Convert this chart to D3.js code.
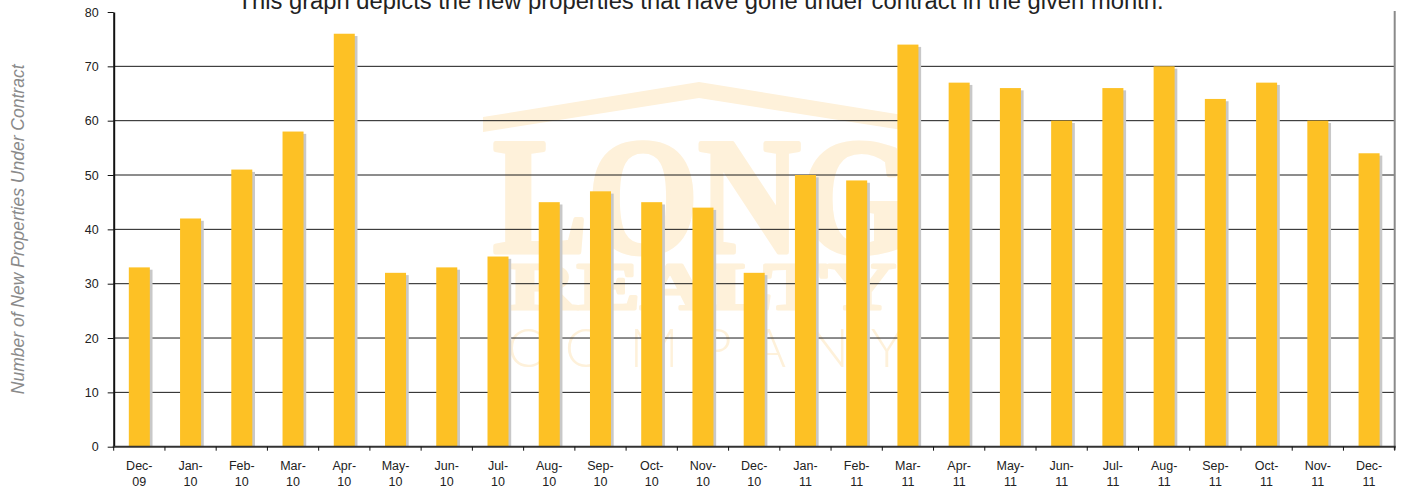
<!DOCTYPE html>
<html>
<head>
<meta charset="utf-8">
<script src="https://cdn.jsdelivr.net/npm/d3@7"></script>
<style>
  body { margin: 0; background: #fff; }
</style>
</head>
<body>
<div id="vis"></div>
<script>
// month labels are split over two lines, like the original
const months = ["Dec-", "Jan-", "Feb-", "Mar-", "Apr-", "May-", "Jun-", "Jul-", "Aug-", "Sep-", "Oct-", "Nov-", "Dec-",
                "Jan-", "Feb-", "Mar-", "Apr-", "May-", "Jun-", "Jul-", "Aug-", "Sep-", "Oct-", "Nov-", "Dec-"];
const years = ["09", "10", "10", "10", "10", "10", "10", "10", "10", "10", "10", "10", "10",
               "11", "11", "11", "11", "11", "11", "11", "11", "11", "11", "11", "11"];
const values = [33, 42, 51, 58, 76, 32, 33, 35, 45, 47, 45, 44, 32,
                50, 49, 74, 67, 66, 60, 66, 70, 64, 67, 60, 54];
const yTicks = [0, 10, 20, 30, 40, 50, 60, 70, 80];
const gridTicks = [10, 20, 30, 40, 50, 60, 70];

const CONFIG = {
    colors: {
        bar: "#FDC125",
        shadow: "#C8C8C8",
        grid: "#1a1a1a",
        axis: "#111",
        border: "#8a8a8a",
        mark: "#FEF1DA",
        label: "#8a8a8a"
    },
    dims: {
        w: 1401,
        h: 489,
        margin: { top: 12, right: 6.3, bottom: 42.3, left: 113.7 }
    }
};

const W = CONFIG.dims.w, H = CONFIG.dims.h, M = CONFIG.dims.margin;
const plotL = M.left, plotR = W - M.right, plotT = M.top, plotB = H - M.bottom;

const data = values.map((v, i) => ({ key: i, month: months[i], year: years[i], value: v }));

const svg = d3.select("#vis")
    .append("svg")
    .attr("width", W)
    .attr("height", H);

const x = d3.scaleBand()
    .domain(data.map(d => d.key))
    .range([plotL, plotR])
    .padding(0);

const xBar = d3.scaleBand()
    .domain(data.map(d => d.key))
    .range([plotL, plotR])
    .paddingInner(0.59)
    .paddingOuter(0.295);

const y = d3.scaleLinear()
    .domain([0, 80])
    .range([plotB, plotT]);

// watermark logo behind the bars
const logo = svg.append("g")
    .attr("fill", CONFIG.colors.mark)
    .attr("stroke", CONFIG.colors.mark)
    .attr("stroke-linejoin", "round");
logo.append("polygon")
    .attr("stroke-width", 0)
    .attr("points", "483,117 699,82 915,117 915,132 699,98 483,132");
logo.append("text")
    .attr("x", 493).attr("y", 252)
    .attr("font-family", "Liberation Serif")
    .attr("font-weight", "bold")
    .attr("font-size", 166)
    .attr("stroke-width", 5)
    .attr("textLength", 418)
    .attr("lengthAdjust", "spacingAndGlyphs")
    .text("LONG");
logo.append("text")
    .attr("x", 508).attr("y", 309)
    .attr("font-family", "Liberation Serif")
    .attr("font-weight", "bold")
    .attr("font-size", 68)
    .attr("stroke-width", 3)
    .attr("textLength", 388)
    .attr("lengthAdjust", "spacingAndGlyphs")
    .text("REALTY");
logo.append("text")
    .attr("x", 507).attr("y", 367)
    .attr("font-family", "Lato")
    .attr("font-weight", 300)
    .attr("font-size", 54)
    .attr("stroke-width", 0)
    .attr("textLength", 396)
    .attr("lengthAdjust", "spacing")
    .text("COMPANY");

// grid
svg.append("g")
    .selectAll("line")
    .data(gridTicks)
    .join("line")
    .attr("x1", plotL).attr("x2", plotR)
    .attr("y1", d => y(d)).attr("y2", d => y(d))
    .attr("stroke", CONFIG.colors.grid)
    .attr("stroke-width", 1);

// bar shadows then bars
svg.append("g")
    .selectAll("rect")
    .data(data)
    .join("rect")
    .attr("x", d => xBar(d.key) + 2.7)
    .attr("y", d => y(d.value) + 2.3)
    .attr("width", xBar.bandwidth())
    .attr("height", d => plotB - y(d.value) - 2.3)
    .attr("fill", CONFIG.colors.shadow);

svg.append("g")
    .selectAll("rect")
    .data(data)
    .join("rect")
    .attr("x", d => xBar(d.key))
    .attr("y", d => y(d.value))
    .attr("width", xBar.bandwidth())
    .attr("height", d => plotB - y(d.value))
    .attr("fill", CONFIG.colors.bar);

// right border
svg.append("line")
    .attr("x1", plotR).attr("x2", plotR)
    .attr("y1", plotT - 1).attr("y2", plotB + 3)
    .attr("stroke", CONFIG.colors.border)
    .attr("stroke-width", 2);

// y axis
const yAxis = svg.append("g")
    .attr("transform", `translate(${plotL},0)`)
    .call(d3.axisLeft(y).tickValues(yTicks).tickSize(6).tickPadding(9).tickSizeOuter(0));
yAxis.select(".domain").attr("stroke", CONFIG.colors.axis).attr("stroke-width", 2);
yAxis.selectAll(".tick line").attr("stroke", CONFIG.colors.axis);
yAxis.selectAll(".tick text")
    .attr("font-family", "Liberation Sans")
    .attr("font-size", 12.5)
    .attr("fill", "#222");

// x axis: baseline, ticks at band edges, two-line labels
svg.append("line")
    .attr("x1", plotL - 1).attr("x2", plotR + 1)
    .attr("y1", plotB).attr("y2", plotB)
    .attr("stroke", "#333")
    .attr("stroke-width", 2);

const edges = data.map(d => x(d.key)).concat([plotR]);
svg.append("g")
    .selectAll("line")
    .data(edges)
    .join("line")
    .attr("x1", d => d).attr("x2", d => d)
    .attr("y1", plotB).attr("y2", plotB + 4)
    .attr("stroke", CONFIG.colors.axis);

const xLabels = svg.append("g")
    .attr("font-family", "Liberation Sans")
    .attr("font-size", 12.5)
    .attr("fill", "#222")
    .attr("text-anchor", "middle")
    .selectAll("text")
    .data(data)
    .join("text")
    .attr("x", d => x(d.key) + x.bandwidth() / 2)
    .attr("y", plotB + 23.5);
xLabels.append("tspan").text(d => d.month);
xLabels.append("tspan")
    .attr("x", d => x(d.key) + x.bandwidth() / 2)
    .attr("dy", 16)
    .text(d => d.year);

// y axis title
const yTitle = svg.append("text")
    .attr("transform", `translate(24,${(plotT + plotB) / 2}) rotate(-90)`)
    .attr("text-anchor", "middle")
    .attr("font-family", "Liberation Sans")
    .attr("font-style", "italic")
    .attr("font-size", 15)
    .attr("fill", CONFIG.colors.label)
    .text("Number of New Properties Under Contract");
// size it to the width seen in the reference
yTitle.attr("font-size", 15 * 330 / yTitle.node().getComputedTextLength());

// chart title, clipped at the top of the page as in the source
const title = svg.append("text")
    .attr("x", W / 2)
    .attr("y", 9)
    .attr("text-anchor", "middle")
    .attr("font-family", "Liberation Sans")
    .attr("font-size", 20)
    .attr("fill", "#222")
    .text("This graph depicts the new properties that have gone under contract in the given month.");
title.attr("font-size", 20 * 927 / title.node().getComputedTextLength());
</script>
</body>
</html>
